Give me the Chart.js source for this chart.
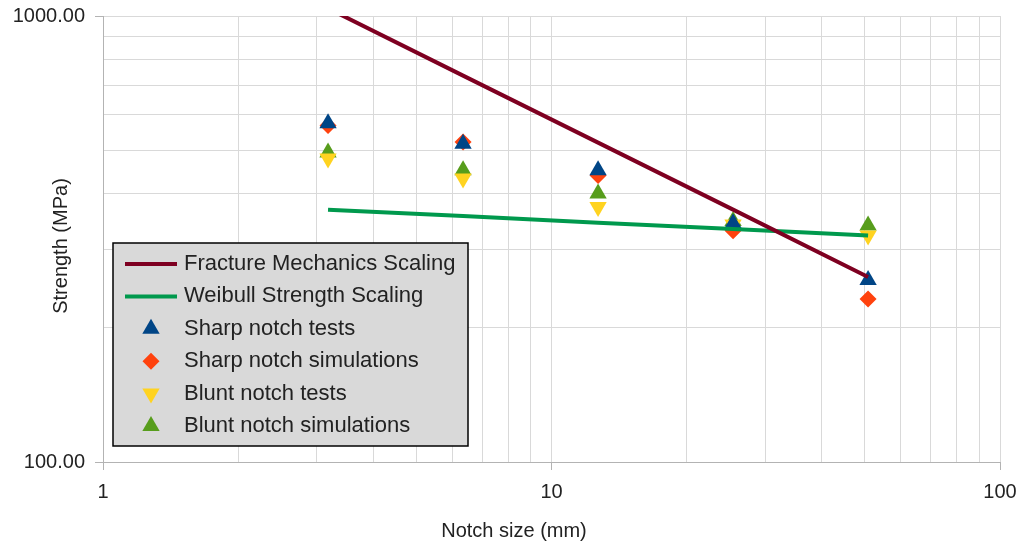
<!DOCTYPE html>
<html>
<head>
<meta charset="utf-8">
<title>Notch size vs strength</title>
<script src="https://cdn.jsdelivr.net/npm/chart.js@4.4.0/dist/chart.umd.min.js"></script>
<style>
  html, body { margin: 0; padding: 0; background: #fff; }
  #wrap { width: 1019px; height: 548px; }
</style>
</head>
<body>
<div id="wrap"><canvas id="strengthChart"></canvas></div>
<script>
// notch sizes in mm (1/8", 1/4", 1/2", 1", 2")
const notchSizes = [3.175, 6.35, 12.7, 25.4, 50.8];

// strength values in MPa
const fractureMechanics = [1040, 735, 520, 368, 260];
const weibullScaling = [368, 356, 344, 333, 322];
const sharpTests = [575, 517, 451, 343, 256];
const sharpSims = [568, 522, 439, 330, 232];
const bluntTests = [479, 432, 373, 341, 322];
const bluntSims = [494, 451, 400, 347, 339];

// axis ticks (grid lines) and the ones that carry a label
const xTicks = [1, 2, 3, 4, 5, 6, 7, 8, 9, 10, 20, 30, 40, 50, 60, 70, 80, 90, 100];
const yTicks = [100, 200, 300, 400, 500, 600, 700, 800, 900, 1000];
const xLabelled = [1, 10, 100];
const yLabelled = [100, 1000];

const xTitle = 'Notch size (mm)';
const yTitle = 'Strength (MPa)';

const FONT = 'Liberation Sans, Arial, sans-serif';
const TEXT = '#222';

function toPoints(values) {
    return notchSizes.map((x, i) => ({ x: x, y: values[i] }));
}

// axis titles, placed like the original (not centred on the plot area)
const axisTitles = {
    id: 'axisTitles',
    afterDraw(chart) {
        const ctx = chart.ctx;
        ctx.save();
        ctx.fillStyle = TEXT;
        ctx.font = '20px ' + FONT;
        ctx.textAlign = 'center';
        ctx.textBaseline = 'middle';
        ctx.fillText(xTitle, 514, 531);
        ctx.translate(61, 246);
        ctx.rotate(-Math.PI / 2);
        ctx.fillText(yTitle, 0, 0);
        ctx.restore();
    }
};

// legend drawn inside the plot, lower left
const insideLegend = {
    id: 'insideLegend',
    afterDraw(chart) {
        const ctx = chart.ctx;
        const left = chart.chartArea.left + 10;
        const top = 243;
        ctx.save();
        ctx.fillStyle = '#d9d9d9';
        ctx.fillRect(left, top, 355, 203);
        ctx.strokeStyle = '#000';
        ctx.lineWidth = 1.5;
        ctx.strokeRect(left, top, 355, 203);

        ctx.font = '22px ' + FONT;
        ctx.textBaseline = 'middle';
        chart.data.datasets.forEach((ds, i) => {
            const y = top + 21 + i * 32.4;
            if (ds.showLine) {
                ctx.strokeStyle = ds.borderColor;
                ctx.lineWidth = 4;
                ctx.beginPath();
                ctx.moveTo(left + 12, y);
                ctx.lineTo(left + 64, y);
                ctx.stroke();
            } else {
                ctx.fillStyle = ds.backgroundColor;
                Chart.helpers.drawPoint(ctx, {
                    pointStyle: ds.pointStyle,
                    rotation: ds.pointRotation || 0,
                    radius: ds.pointRadius,
                    borderWidth: 0
                }, left + 38, y);
            }
            ctx.fillStyle = TEXT;
            ctx.fillText(ds.label, left + 71, y);
        });
        ctx.restore();
    }
};

function markerSet(label, values, color, style, rotation, radius) {
    return {
        label: label,
        data: toPoints(values),
        showLine: false,
        pointStyle: style,
        pointRotation: rotation,
        pointRadius: radius,
        backgroundColor: color,
        borderColor: color,
        pointBorderWidth: 0
    };
}

const ctx = document.getElementById('strengthChart').getContext('2d');

new Chart(ctx, {
    type: 'scatter',
    data: {
        datasets: [
            {
                label: 'Fracture Mechanics Scaling',
                data: toPoints(fractureMechanics),
                showLine: true,
                borderColor: '#7e0021',
                borderWidth: 4,
                pointRadius: 0,
                clip: 0
            },
            {
                label: 'Weibull Strength Scaling',
                data: toPoints(weibullScaling),
                showLine: true,
                borderColor: '#00994d',
                borderWidth: 4,
                pointRadius: 0,
                clip: 0
            },
            markerSet('Sharp notch tests', sharpTests, '#004586', 'triangle', 0, 10),
            markerSet('Sharp notch simulations', sharpSims, '#ff420e', 'rectRot', 0, 8.5),
            markerSet('Blunt notch tests', bluntTests, '#ffd320', 'triangle', 180, 10),
            markerSet('Blunt notch simulations', bluntSims, '#579d1c', 'triangle', 0, 10)
        ]
    },
    options: {
        responsive: true,
        maintainAspectRatio: false,
        animation: false,
        events: [],
        layout: { padding: { top: 16, right: 19, bottom: 0, left: 0 } },
        plugins: {
            legend: { display: false },
            tooltip: { enabled: false }
        },
        scales: {
            x: {
                type: 'logarithmic',
                min: 1,
                max: 100,
                afterBuildTicks: (scale) => { scale.ticks = xTicks.map(v => ({ value: v })); },
                afterFit: (scale) => {
                    scale.height = 86;
                    scale.paddingLeft = 0;
                    scale.paddingRight = 0;
                },
                ticks: {
                    autoSkip: false,
                    maxRotation: 0,
                    padding: 10,
                    color: TEXT,
                    font: { family: FONT, size: 20 },
                    callback: (v) => xLabelled.includes(v) ? String(v) : ''
                },
                grid: {
                    color: '#d9d9d9',
                    tickLength: 8,
                    tickColor: (c) => (c.tick && xLabelled.includes(c.tick.value)) ? '#b3b3b3' : 'rgba(0,0,0,0)'
                },
                border: { color: '#b3b3b3' },
                title: { display: false }
            },
            y: {
                type: 'logarithmic',
                min: 100,
                max: 1000,
                afterBuildTicks: (scale) => { scale.ticks = yTicks.map(v => ({ value: v })); },
                afterFit: (scale) => {
                    scale.width = 103;
                    scale.paddingTop = 0;
                    scale.paddingBottom = 0;
                },
                ticks: {
                    autoSkip: false,
                    padding: 10,
                    color: TEXT,
                    font: { family: FONT, size: 20 },
                    callback: (v) => yLabelled.includes(v) ? v.toFixed(2) : ''
                },
                grid: {
                    color: '#d9d9d9',
                    tickLength: 8,
                    tickColor: (c) => (c.tick && yLabelled.includes(c.tick.value)) ? '#b3b3b3' : 'rgba(0,0,0,0)'
                },
                border: { color: '#b3b3b3' },
                title: { display: false }
            }
        }
    },
    plugins: [insideLegend, axisTitles]
});
</script>
</body>
</html>
